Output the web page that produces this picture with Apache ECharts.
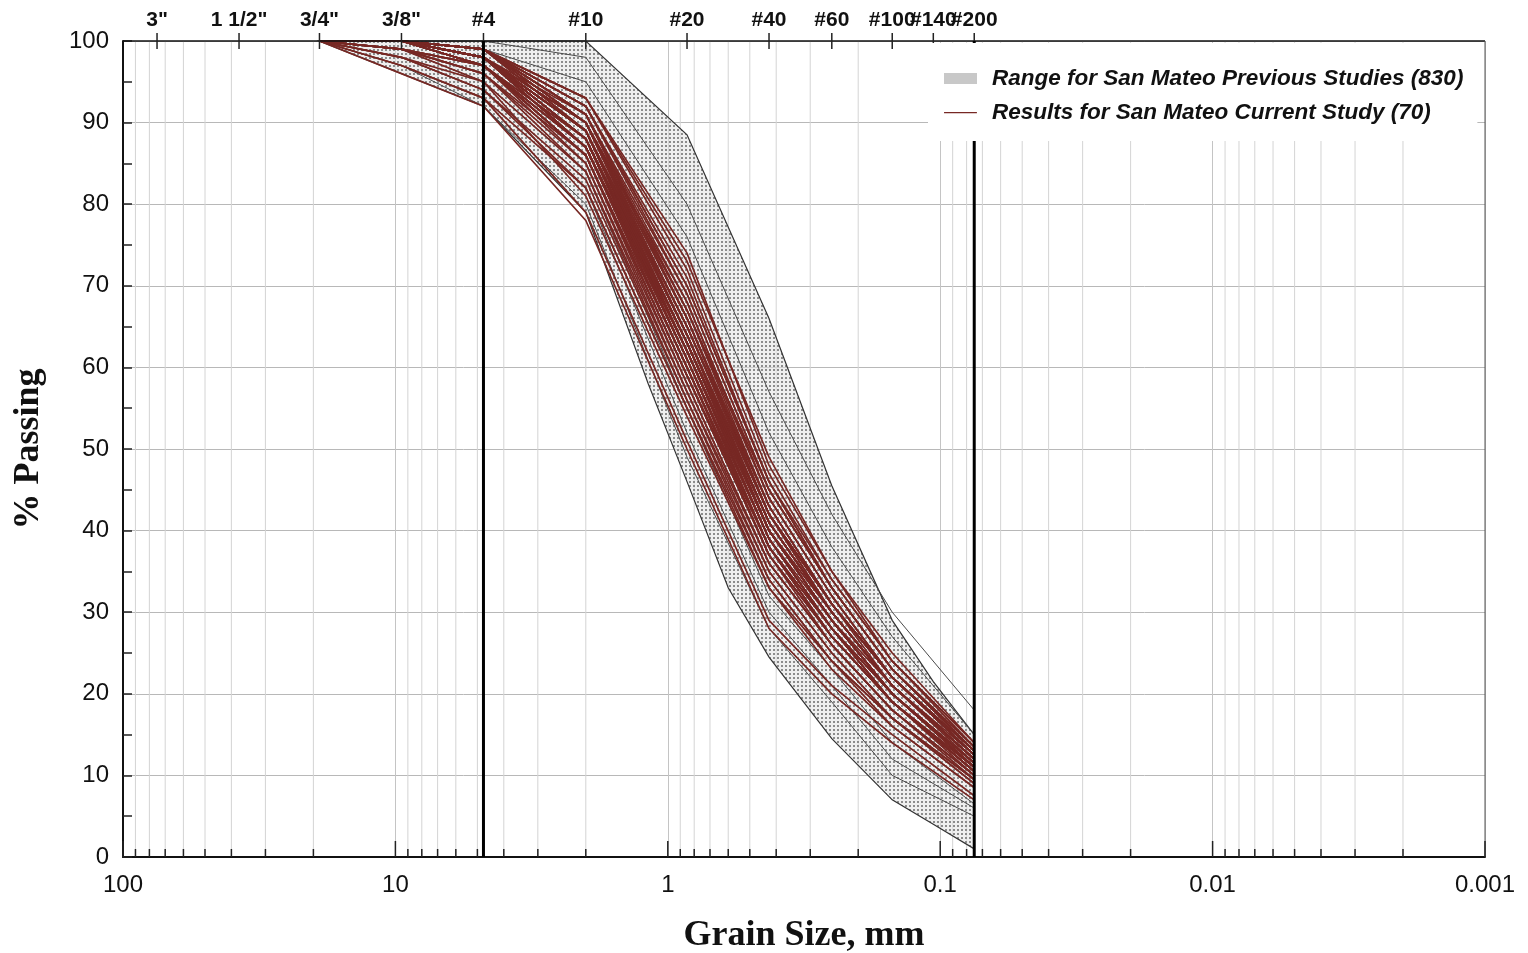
<!DOCTYPE html>
<html><head><meta charset="utf-8">
<script src="https://cdn.jsdelivr.net/npm/echarts@6/dist/echarts.min.js"></script>
<style>html,body{margin:0;padding:0;background:#fff}#c{width:1528px;height:953px}</style>
</head><body><div id="c"></div>
<script>
// ---------------- DATA ----------------
const sieveSizes = [19, 9.5, 4.75, 2.0, 0.85, 0.425, 0.25, 0.15, 0.075];

const currentStudy = [
 [100,100,99,92,71,46,33,23,13],
 [100,100,98,90,68,44,32,22,12.5],
 [100,100,99,91,66,42,31,21,12],
 [100,100,98,89,64,41,30,21,12],
 [100,100,97,88,63,40,29,20,11],
 [100,100,99,90,65,43,31,22,13],
 [100,99,97,87,62,40,29,20,11.5],
 [100,100,98,88,61,39,28,19,10.5],
 [100,100,99,89,63,41,30,21,12],
 [100,100,98,87,60,38,27,19,11],
 [100,99,96,86,59,37,27,19,10.5],
 [100,100,98,90,67,45,33,23,13.5],
 [100,100,99,93,73,49,35,24,14],
 [100,100,98,91,69,45,33,23,13],
 [100,100,97,86,58,36,26,18,10],
 [100,99,96,85,57,35,25,17,9.5],
 [100,100,98,88,62,39,28,20,11],
 [100,100,99,89,64,41,30,21,12.5],
 [100,100,97,87,61,39,28,19,10.5],
 [100,100,98,88,63,40,29,20,11.5],
 [100,98,95,84,56,35,25,17,9],
 [100,100,99,92,70,46,34,24,14],
 [100,100,98,89,62,40,29,20,11],
 [100,100,98,90,64,41,30,21,12],
 [100,100,97,87,60,38,27,19,10.5],
 [100,99,97,86,59,38,28,19,11],
 [100,100,99,91,67,43,31,22,12.5],
 [100,100,98,89,63,40,29,20,11.5],
 [100,100,98,88,61,39,28,20,11],
 [100,97,93,82,55,34,24,16,8.5],
 [100,100,99,90,66,42,31,22,12.5],
 [100,100,98,87,62,40,29,21,12],
 [100,100,97,86,60,37,27,19,10],
 [100,100,99,93,72,47,34,24,13.5],
 [100,100,98,89,64,42,30,21,12],
 [100,99,96,84,57,36,26,18,10],
 [100,100,98,88,63,40,30,21,12],
 [100,100,99,90,65,42,30,21,11.5],
 [100,100,98,87,61,38,27,19,10.5],
 [100,96,92,78,50,28,20,14,7],
 [100,100,99,91,68,44,32,22,13],
 [100,100,98,89,62,39,29,20,11],
 [100,100,97,88,62,40,29,20,11.5],
 [100,100,98,90,66,43,31,22,12.5],
 [100,99,97,85,58,36,26,18,9.5],
 [100,100,99,92,69,45,33,23,13.5],
 [100,100,98,88,61,38,28,19,10.5],
 [100,100,98,89,63,41,30,21,12],
 [100,98,94,83,56,34,24,17,9],
 [100,100,99,91,66,43,31,22,12.5],
 [100,100,98,87,60,38,28,19,11],
 [100,100,97,86,59,37,27,19,10.5],
 [100,100,99,90,64,41,30,21,12],
 [100,100,98,89,65,42,31,22,13],
 [100,100,98,88,62,39,28,20,11],
 [100,99,95,81,54,33,24,17,9.5],
 [100,100,99,92,70,46,33,23,13],
 [100,100,98,90,64,40,29,20,11.5],
 [100,100,97,87,61,39,28,20,11],
 [100,100,98,89,63,40,30,21,12],
 [100,100,99,91,67,44,32,22,12.5],
 [100,99,97,86,59,37,26,18,10],
 [100,100,98,88,62,40,29,20,11.5],
 [100,100,98,89,64,42,31,22,12.5],
 [100,97,93,79,51,29,21,15,7.5],
 [100,100,99,93,74,48,35,25,14],
 [100,100,98,87,60,38,27,19,10.5],
 [100,100,98,88,63,41,30,21,12],
 [100,98,94,82,55,33,23,16,8.5],
 [100,100,99,90,65,42,31,22,12.5]
];

const previousCurves = [
 [100,100,100,98,80,57,42,30,18],
 [100,100,99,95,76,52,38,27,15],
 [100,98,94,82,52,30,21,12,6],
 [100,97,92,80,49,28,19,10,5],
 [100,99,95,84,55,32,23,14,6.5]
];

const rangeUpperSizes = [19, 2.0, 0.85, 0.425, 0.25, 0.15, 0.106, 0.075];
const rangeUpper      = [100, 100, 88.5, 66, 45.5, 29, 21.5, 15];
const rangeLowerSizes = [19, 9.5, 4.75, 2.0, 1.18, 0.85, 0.6, 0.425, 0.25, 0.15, 0.106, 0.075];
const rangeLower      = [100, 96, 92, 79, 58, 46, 33, 24.5, 14.5, 7, 4, 1];

const topTickSizes  = [75, 37.5, 19, 9.5, 4.75, 2.0, 0.85, 0.425, 0.25, 0.15, 0.106, 0.075];
const topTickLabels = ['3"', '1 1/2"', '3/4"', '3/8"', '#4', '#10', '#20', '#40', '#60', '#100', '#140', '#200'];
const boundarySizes = [4.75, 0.075];

const NAME_RANGE = 'Range for San Mateo Previous Studies (830)';
const NAME_CUR = 'Results for San Mateo Current Study (70)';

// ---------------- helpers ----------------
const decades = [0.001, 0.01, 0.1, 1, 10];
const minorVals = [];
decades.forEach(d => { for (let k = 2; k <= 9; k++) minorVals.push(+(d * k).toPrecision(3)); });
const majorVals = [0.001, 0.01, 0.1, 1, 10, 100];

const pc = document.createElement('canvas');
pc.width = 4; pc.height = 4;
const pctx = pc.getContext('2d');
pctx.fillStyle = 'rgba(225,225,225,0.55)';
pctx.fillRect(0, 0, 4, 4);
pctx.fillStyle = '#8c8c8c';
pctx.fillRect(1, 1, 2, 2);
const pattern = { image: pc, repeat: 'repeat' };

const LINE_ICON = 'path://M0,5 L33,5 L33,6.3 L0,6.3 Z M0,0 L0.05,0 L0.05,0.05 Z M33,11 L33.05,11 L33.05,11.05 Z';

function renderGrid(params, api) {
  const ch = [];
  minorVals.forEach(v => {
    const a = api.coord([v, 0]), b = api.coord([v, 100]);
    ch.push({ type: 'line', shape: { x1: a[0], y1: a[1], x2: b[0], y2: b[1] }, style: { stroke: '#d4d4d4', lineWidth: 1 } });
  });
  return { type: 'group', children: ch };
}

function renderRange(params, api) {
  const pts = [];
  for (let i = 0; i < rangeUpperSizes.length; i++) pts.push(api.coord([rangeUpperSizes[i], rangeUpper[i]]));
  for (let i = rangeLowerSizes.length - 1; i >= 0; i--) pts.push(api.coord([rangeLowerSizes[i], rangeLower[i]]));
  return { type: 'polygon', shape: { points: pts }, style: { fill: pattern, stroke: '#333', lineWidth: 1.2 } };
}

function renderFront(params, api) {
  const ch = [];
  const tl = api.coord([100, 100]), tr = api.coord([0.001, 100]), br = api.coord([0.001, 0]);
  ch.push({ type: 'line', shape: { x1: tl[0], y1: tl[1], x2: tr[0], y2: tr[1] }, style: { stroke: '#111', lineWidth: 1.5 } });
  ch.push({ type: 'line', shape: { x1: tr[0], y1: tr[1], x2: br[0], y2: br[1] }, style: { stroke: '#555', lineWidth: 1 } });
  minorVals.forEach(v => {
    const p = api.coord([v, 0]);
    ch.push({ type: 'line', shape: { x1: p[0], y1: p[1], x2: p[0], y2: p[1] - 8 }, style: { stroke: '#222', lineWidth: 1.5 } });
  });
  majorVals.forEach(v => {
    const p = api.coord([v, 0]);
    ch.push({ type: 'line', shape: { x1: p[0], y1: p[1], x2: p[0], y2: p[1] - 16 }, style: { stroke: '#222', lineWidth: 1.5 } });
  });
  topTickSizes.forEach((s, i) => {
    const p = api.coord([s, 100]);
    ch.push({ type: 'line', shape: { x1: p[0], y1: p[1] - 8, x2: p[0], y2: p[1] + 8 }, style: { stroke: '#222', lineWidth: 1.5 } });
    ch.push({ type: 'text', x: p[0], y: p[1] - 21, style: { text: topTickLabels[i], fill: '#111', font: 'bold 21px "Liberation Sans", Arial, sans-serif', align: 'center', verticalAlign: 'middle' } });
  });
  boundarySizes.forEach(s => {
    const a = api.coord([s, 0]), b = api.coord([s, 100]);
    ch.push({ type: 'line', shape: { x1: a[0], y1: a[1], x2: b[0], y2: b[1] }, style: { stroke: '#000', lineWidth: 3 } });
  });
  return { type: 'group', children: ch };
}

// ---------------- series ----------------
const series = [];
series.push({ type: 'custom', name: '_grid', renderItem: renderGrid, data: [[1, 50]], z: 0, silent: true, clip: false });
series.push({ type: 'custom', name: NAME_RANGE, renderItem: renderRange, data: [[1, 50]], z: 1, silent: true, clip: false, itemStyle: { color: '#c8c8c8' } });
previousCurves.forEach(row => {
  series.push({ type: 'line', name: '_prev', data: sieveSizes.map((s, i) => [s, row[i]]), symbol: 'none', lineStyle: { color: '#4a4a4a', width: 1 }, z: 2, silent: true });
});
currentStudy.forEach(row => {
  series.push({ type: 'line', name: NAME_CUR, data: sieveSizes.map((s, i) => [s, row[i]]), symbol: 'none', lineStyle: { color: '#772824', width: 1.7 }, itemStyle: { color: '#772824' }, z: 3, silent: true });
});
series.push({ type: 'custom', name: '_front', renderItem: renderFront, data: [[1, 50]], z: 10, silent: true, clip: false });

const chart = echarts.init(document.getElementById('c'), null, { renderer: 'canvas' });
chart.setOption({
  animation: false,
  backgroundColor: '#fff',
  grid: { left: 123, right: 43, top: 41, bottom: 96, containLabel: false, outerBoundsMode: 'none' },
  legend: {
    orient: 'vertical', left: 928, top: 43, z: 20,
    padding: [24, 14, 17, 16], backgroundColor: '#fff',
    itemWidth: 33, itemHeight: 11, itemGap: 11,
    selectedMode: false,
    textStyle: { fontFamily: '"Liberation Sans", Arial, sans-serif', fontWeight: 'bold', fontStyle: 'italic', fontSize: 22.5, color: '#111', padding: [0, 0, 0, 10] },
    data: [
      { name: NAME_RANGE, icon: 'rect', itemStyle: { color: '#c8c8c8' } },
      { name: NAME_CUR, icon: LINE_ICON, itemStyle: { color: '#772824' } }
    ]
  },
  xAxis: {
    type: 'log', logBase: 10, min: 0.001, max: 100, inverse: true, splitNumber: 5,
    name: 'Grain Size, mm', nameLocation: 'middle', nameGap: 61,
    nameTextStyle: { fontFamily: '"Liberation Serif", "Times New Roman", serif', fontWeight: 'bold', fontSize: 36, color: '#111' },
    axisLine: { show: true, onZero: false, lineStyle: { color: '#111', width: 2 } },
    axisTick: { show: false },
    axisLabel: { fontFamily: '"Liberation Sans", Arial, sans-serif', fontSize: 24, color: '#111', margin: 16,
      formatter: v => String(+(+v).toPrecision(3)) },
    splitLine: { show: true, lineStyle: { color: '#c4c4c4', width: 1 } }
  },
  yAxis: {
    type: 'value', min: 0, max: 100, interval: 10,
    name: '% Passing', nameLocation: 'middle', nameGap: 76, nameRotate: 90,
    nameTextStyle: { fontFamily: '"Liberation Serif", "Times New Roman", serif', fontWeight: 'bold', fontSize: 36, color: '#111' },
    axisLine: { show: true, lineStyle: { color: '#111', width: 2 } },
    axisTick: { show: true, inside: true, length: 9, lineStyle: { color: '#222', width: 1.5 } },
    minorTick: { show: true, splitNumber: 2, length: 9, lineStyle: { color: '#222', width: 1.5 } },
    axisLabel: { fontFamily: '"Liberation Sans", Arial, sans-serif', fontSize: 24, color: '#111', margin: 14 },
    splitLine: { show: true, lineStyle: { color: '#b8b8b8', width: 1 } }
  },
  series: series
});
</script>
</body></html>
